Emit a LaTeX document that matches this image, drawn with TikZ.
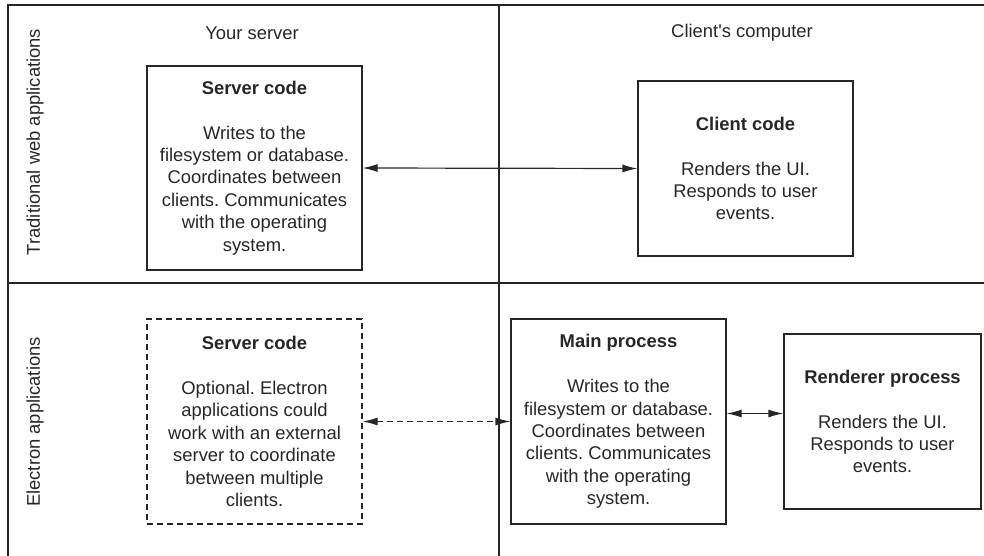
\documentclass[tikz,border=0pt]{standalone}
\usepackage{fontspec}
\setmainfont{Liberation Sans}
\usetikzlibrary{arrows.meta}
\definecolor{ink}{HTML}{262626}
\frenchspacing
\tikzset{
  x=1pt, y=-1pt,
  frameline/.style={draw=ink, line width=1.3pt},
  codebox/.style={draw=ink, line width=1.2pt, align=center, inner sep=0pt, text=ink,
    font=\fontsize{18.4}{22.4}\selectfont\frenchspacing},
  dashedbox/.style={codebox, dashed, dash pattern=on 6pt off 4pt},
  header/.style={text=ink, font=\fontsize{18.4}{22.4}\selectfont},
  tip/.style={Latex[length=15pt,width=8pt]},
  biarrow/.style={draw=ink, line width=1.2pt, {Latex[length=15pt,width=8pt]}-{Latex[length=15pt,width=8pt]}},
}
\begin{document}
\begin{tikzpicture}
\useasboundingbox (0,0) rectangle (984,556);
% frame
\draw[frameline] (984,5) -- (8,5) -- (8,556);
\draw[frameline] (8,283) -- (984,283);
\draw[frameline] (499,5) -- (499,556);
% headers
\node[header] (hserver) at (252,33) {Your server};
\node[header] (hclient) at (742,33) {Client\textquotesingle s computer};
\node[header, rotate=90] (htrad) at (35,142) {Traditional web applications};
\node[header, rotate=90] (helec) at (35,422) {Electron applications};
% boxes
\node[codebox, minimum width=215pt, minimum height=204pt] (srv) at (254.5,168)
  {\textbf{Server code}\\[22.4pt]Writes to the\\filesystem or database.\\Coordinates between\\clients. Communicates\\with the operating\\system.};
\node[codebox, minimum width=215pt, minimum height=175pt] (cli) at (745.5,168.5)
  {\textbf{Client code}\\[22.4pt]Renders the UI.\\Responds to user\\events.};
\node[dashedbox, minimum width=215pt, minimum height=205pt] (osrv) at (254.5,421.5)
  {\textbf{Server code}\\[22.4pt]Optional. Electron\\applications could\\work with an external\\server to coordinate\\between multiple\\clients.};
\node[codebox, minimum width=215pt, minimum height=205pt] (mainp) at (618.5,421.5)
  {\textbf{Main process}\\[22.4pt]Writes to the\\filesystem or database.\\Coordinates between\\clients. Communicates\\with the operating\\system.};
\node[codebox, minimum width=197pt, minimum height=175pt] (rend) at (882.5,421.5)
  {\textbf{Renderer process}\\[22.4pt]Renders the UI.\\Responds to user\\events.};
% connectors
\draw[biarrow] (srv.east) -- (cli.west);
\draw[biarrow, dashed, dash pattern=on 6pt off 4pt] (osrv.east) -- (mainp.west);
\draw[biarrow] ([yshift=8pt]mainp.east) -- ([yshift=8pt]mainp.east -| rend.west);
\end{tikzpicture}
\end{document}
